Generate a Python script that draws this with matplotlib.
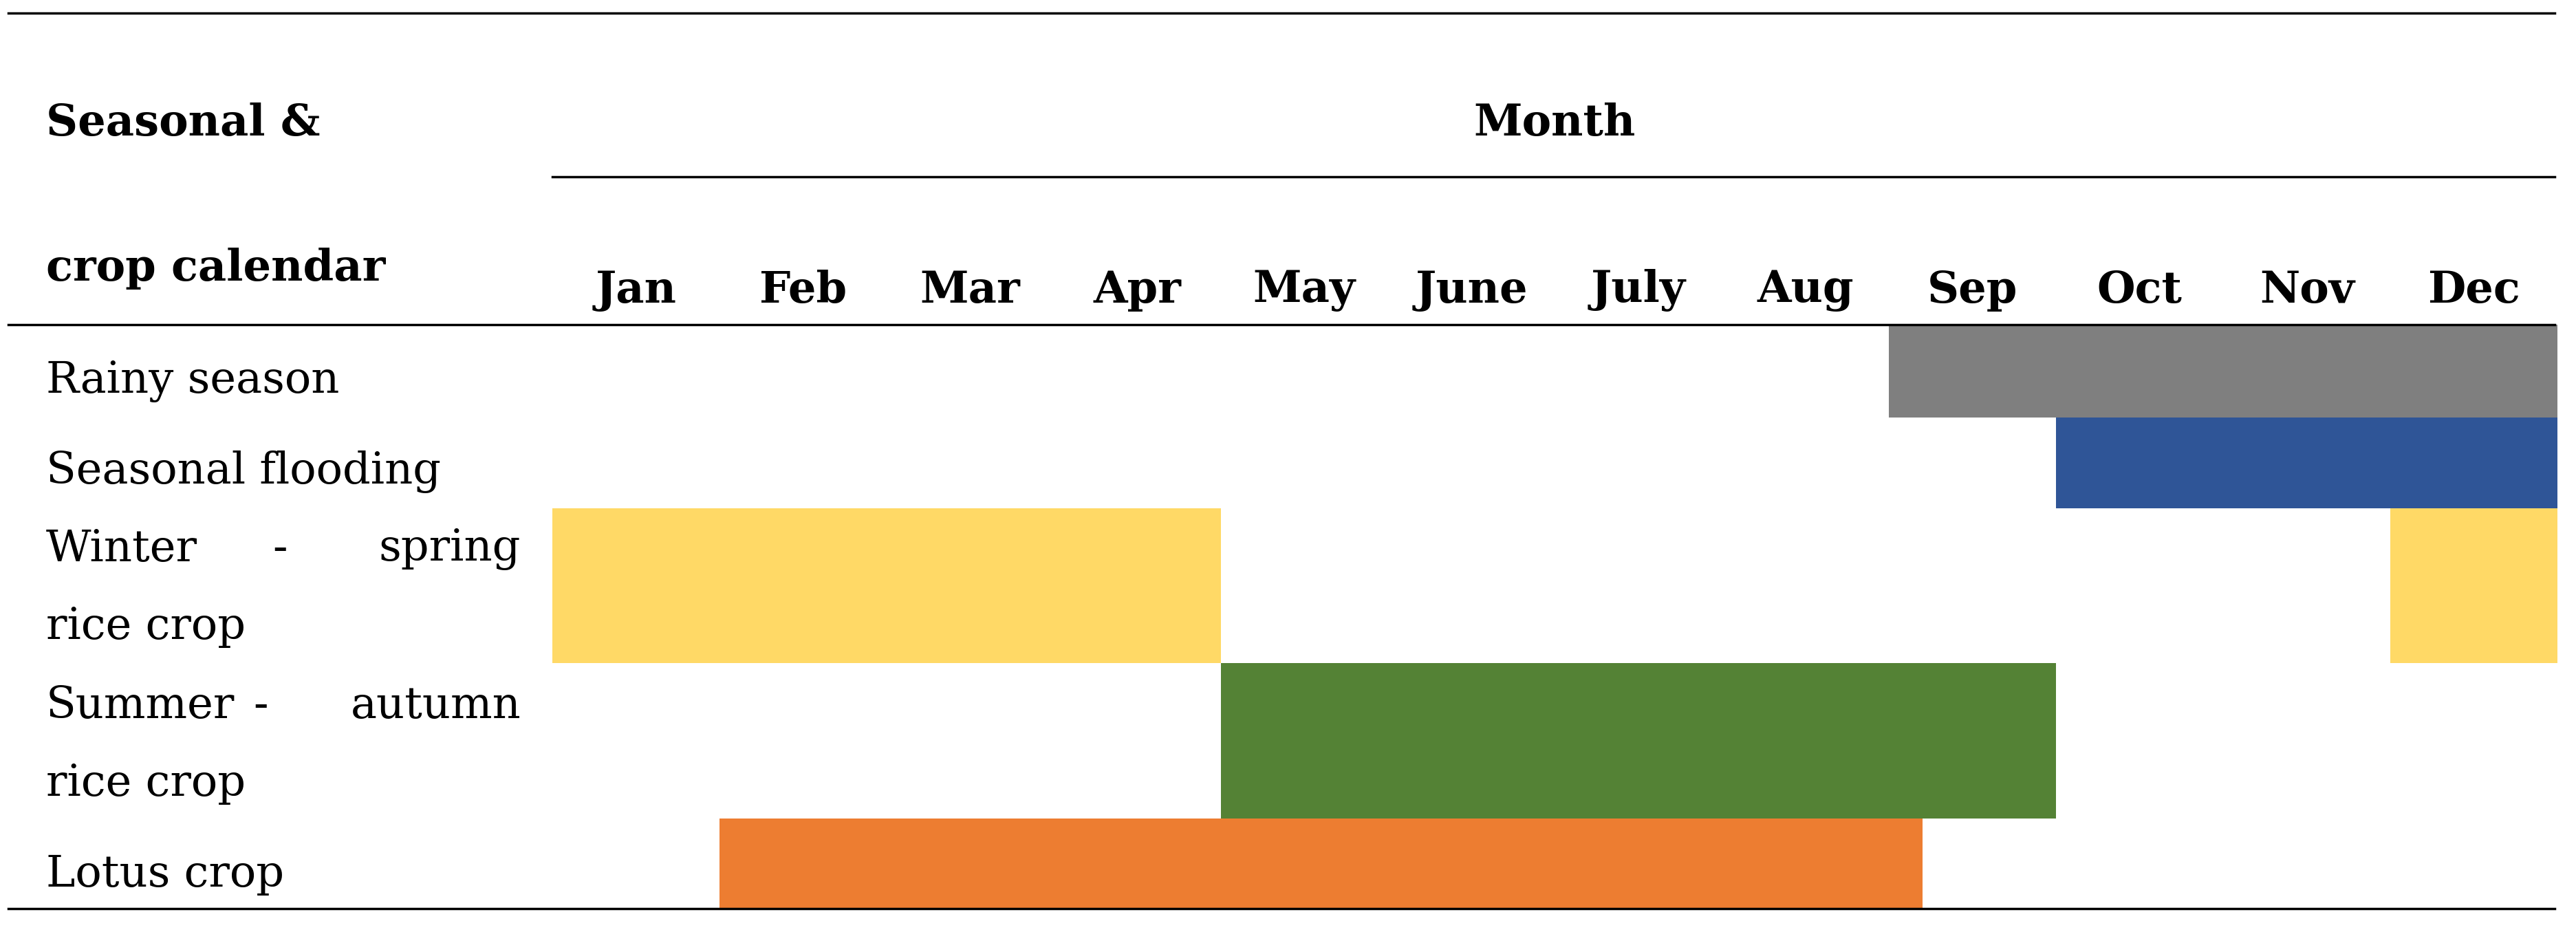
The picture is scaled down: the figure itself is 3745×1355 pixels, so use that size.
import matplotlib

matplotlib.use("Agg")
import matplotlib.pyplot as plt

months = ["Jan", "Feb", "Mar", "Apr", "May", "June", "July", "Aug", "Sep", "Oct", "Nov", "Dec"]
activities = ["Rainy season", "Seasonal flooding", "Winter - spring rice crop",
              "Summer - autumn rice crop", "Lotus crop"]
# spans as (start month index, number of months)
spans = [
    [(8, 4)],
    [(9, 3)],
    [(0, 4), (11, 1)],
    [(4, 5)],
    [(1, 7.2)],
]
colors = ["#7f7f7f", "#2f5597", "#ffd966", "#548235", "#ed7d31"]

# layout in reference pixel rows (565 px tall picture)
row_edges = [197, 253, 308, 402, 496, 551]
W, H = 1563, 565
x0, unit = 335, 101.4

fig = plt.figure(figsize=(37.45, 13.55), dpi=100)
ax = fig.add_axes([0, 0, 1, 1])
ax.set_xlim(-x0 / unit, (W - x0) / unit)
ax.set_ylim(H, 0)
ax.axis("off")

font = "DejaVu Serif"
fs = 46

for i, (sp, c) in enumerate(zip(spans, colors)):
    top, bot = row_edges[i], row_edges[i + 1]
    ax.broken_barh(sp, (top, bot - top), facecolors=c)

# lines
xl = -x0 / unit + 5 / unit
xr = (1550 - x0) / unit
ax.plot([xl, xr], [8, 8], color="black", lw=2.5)
ax.plot([0, xr], [107, 107], color="black", lw=2.5)
ax.plot([xl, xr], [197, 197], color="black", lw=2.5)
ax.plot([xl, xr], [551, 551], color="black", lw=2.5)

# header
ax.text(6, 75, "Month", ha="center", va="center", fontsize=fs, fontweight="bold", family=font)
for i, m in enumerate(months):
    ax.text(i + 0.5, 176, m, ha="center", va="center", fontsize=fs, fontweight="bold", family=font)
lx = (28 - x0) / unit
rx = (316 - x0) / unit
ax.text(lx, 75, "Seasonal &", ha="left", va="center", fontsize=fs, fontweight="bold", family=font)
ax.text(lx, 163, "crop calendar", ha="left", va="center", fontsize=fs, fontweight="bold", family=font)

# row labels
mx = (170 - x0) / unit
ax.text(lx, 231, activities[0], ha="left", va="center", fontsize=fs, family=font)
ax.text(lx, 286, activities[1], ha="left", va="center", fontsize=fs, family=font)
for y, (a, b), second in [(333, ("Winter", "spring"), 380), (428, ("Summer", "autumn"), 475)]:
    ax.text(lx, y, a, ha="left", va="center", fontsize=fs, family=font)
    ax.text(mx if a == "Winter" else (158 - x0) / unit, y, "-", ha="center", va="center", fontsize=fs, family=font)
    ax.text(rx, y, b, ha="right", va="center", fontsize=fs, family=font)
    ax.text(lx, second, "rice crop", ha="left", va="center", fontsize=fs, family=font)
ax.text(lx, 530, activities[4], ha="left", va="center", fontsize=fs, family=font)

fig.savefig("out.png", dpi=100)
